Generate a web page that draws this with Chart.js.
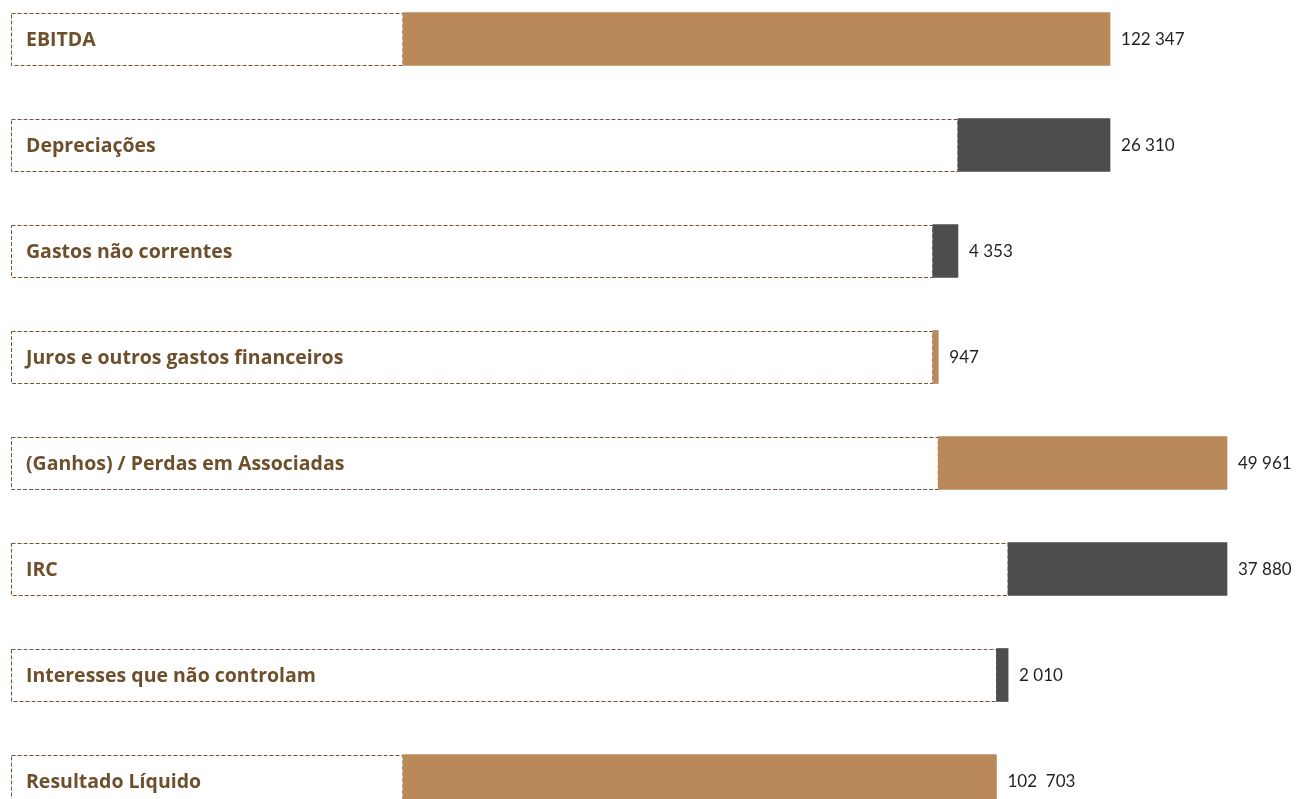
<!DOCTYPE html>
<html>
<head>
<meta charset="utf-8">
<script src="https://cdn.jsdelivr.net/npm/chart.js@4"></script>
<style>
  html, body { margin: 0; padding: 0; background: #ffffff; }
  #wrap { width: 1298px; height: 799px; position: relative; }
</style>
</head>
<body>
<div id="wrap"><canvas id="chart"></canvas></div>
<script>
// dados da ponte EBITDA -> Resultado Líquido
const categories = [
  'EBITDA',
  'Depreciações',
  'Gastos não correntes',
  'Juros e outros gastos financeiros',
  '(Ganhos) / Perdas em Associadas',
  'IRC',
  'Interesses que não controlam',
  'Resultado Líquido'
]
const amounts = [122347, 26310, 4353, 947, 49961, 37880, 2010, 102703]
const kinds = ['total', 'down', 'down', 'up', 'up', 'down', 'down', 'total']
const valueLabels = ['122 347', '26 310', '4 353', '947', '49 961', '37 880', '2 010', '102  703']

const GOLD = '#b98959'
const DARK = '#4d4d4f'

// barras flutuantes [início, fim]
let running = 0
const ranges = amounts.map((v, i) => {
  if (kinds[i] === 'total') { running = v; return [0, v] }
  if (kinds[i] === 'up') { const r = [running, running + v]; running += v; return r }
  const r = [running - v, running]; running -= v; return r
})
const colors = kinds.map(k => (k === 'down' ? DARK : GOLD))

// caixa tracejada + textos
const labelBoxes = {
  id: 'labelBoxes',
  beforeDatasetsDraw(chart) {
    const { ctx, chartArea, scales } = chart
    const meta = chart.getDatasetMeta(0)
    ctx.save()
    ctx.strokeStyle = '#735432'
    ctx.lineWidth = 1
    ctx.setLineDash([4, 2])
    meta.data.forEach((bar, i) => {
      const x0 = chartArea.left + 0.5
      const x1 = scales.x.getPixelForValue(ranges[i][0])
      const top = Math.round(bar.y - bar.height / 2) + 0.5
      const bot = Math.round(bar.y + bar.height / 2) - 0.5
      ctx.strokeRect(x0, top, x1 - x0, bot - top)
    })
    ctx.restore()
  },
  afterDatasetsDraw(chart) {
    const { ctx, chartArea, scales } = chart
    const meta = chart.getDatasetMeta(0)
    ctx.save()
    ctx.textBaseline = 'middle'
    meta.data.forEach((bar, i) => {
      ctx.font = 'bold 19.5px "Open Sans", sans-serif'
      ctx.fillStyle = '#6e4f2c'
      ctx.textAlign = 'left'
      ctx.fillText(categories[i], chartArea.left + 15, bar.y + 1)
      ctx.font = '17px Lato, "Open Sans", sans-serif'
      ctx.fillStyle = '#231f20'
      ctx.fillText(valueLabels[i], scales.x.getPixelForValue(ranges[i][1]) + 11, bar.y + 1)
    })
    ctx.restore()
  }
}

new Chart(document.getElementById('chart'), {
  type: 'bar',
  data: {
    labels: categories,
    datasets: [{
      data: ranges,
      backgroundColor: colors,
      borderWidth: 0,
      barThickness: 53,
      clip: false
    }]
  },
  options: {
    indexAxis: 'y',
    responsive: true,
    maintainAspectRatio: false,
    animation: false,
    layout: { padding: { left: 11, right: 68, top: 39, bottom: 18 } },
    plugins: { legend: { display: false }, tooltip: { enabled: false } },
    scales: {
      x: { display: false, min: -67835, max: 143110 },
      y: { display: false, offset: false }
    }
  },
  plugins: [labelBoxes]
})
</script>
</body>
</html>
